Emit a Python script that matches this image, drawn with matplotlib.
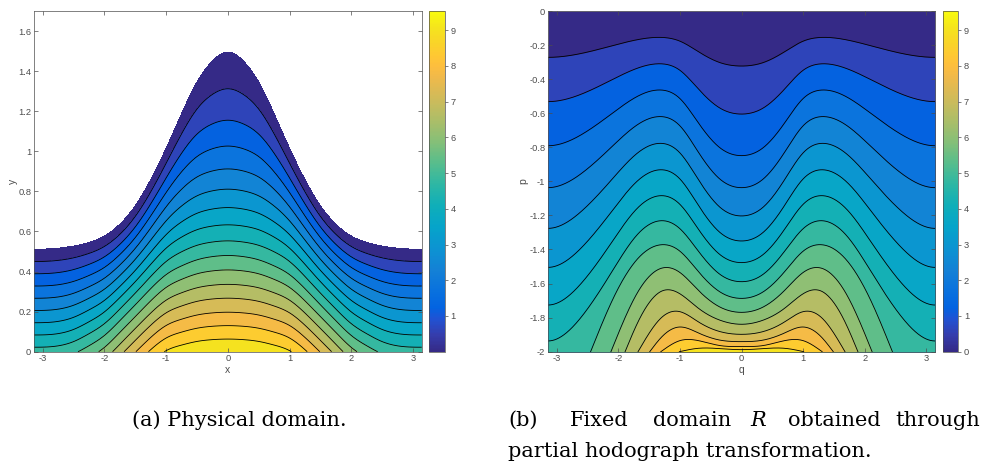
import numpy as np
import matplotlib
matplotlib.use("Agg")
import matplotlib.pyplot as plt
from matplotlib.colors import LinearSegmentedColormap, Normalize
from matplotlib.cm import ScalarMappable

plt.rcParams['font.family'] = ['Liberation Sans', 'DejaVu Sans']
plt.rcParams['axes.unicode_minus'] = False

# contour levels (surface value first) and field maximum
levels = [0.0, 0.6, 1.2, 1.8, 2.4, 3.0, 3.6, 4.2, 4.8, 5.4, 6.0, 6.6, 7.2, 7.8, 8.4, 9.0]
fmax = 9.54
N = None

# (a) physical domain, stations x >= 0 (mirrored in x)
xa = [0.0, 0.25, 0.5, 0.75, 1.0, 1.25, 1.5, 1.75, 2.0, 2.25, 2.5, np.pi]
surf_a = [1.495, 1.450, 1.345, 1.187, 1.015, 0.858, 0.728, 0.636, 0.577, 0.545, 0.527, 0.511]
bed_a = [9.54, 9.52, 9.45, 9.30, 9.05, 8.50, 7.77, 6.98, 6.22, 5.70, 5.30, 5.02]
# contour heights under the crest (x = 0)
crest_a = [1.312, 1.155, 1.026, 0.912, 0.811, 0.719, 0.633, 0.553,
           0.480, 0.408, 0.336, 0.267, 0.197, 0.130, 0.063]

# (b) fixed domain: contour depths p at stations q >= 0
qb = [0.0, 0.35, 0.7, 1.0, 1.3, 1.7, 2.1, 2.6, np.pi]
lines_b = [
    [-0.323, -0.303, -0.239, -0.177, -0.155, -0.169, -0.204, -0.249, -0.272],
    [-0.605, -0.570, -0.458, -0.348, -0.310, -0.337, -0.403, -0.488, -0.532],
    [-0.849, -0.803, -0.657, -0.514, -0.464, -0.503, -0.601, -0.726, -0.791],
    [-1.037, -0.987, -0.829, -0.674, -0.620, -0.670, -0.795, -0.954, -1.037],
    [-1.203, -1.152, -0.990, -0.833, -0.777, -0.837, -0.987, -1.176, -1.276],
    [-1.350, -1.300, -1.141, -0.986, -0.932, -1.001, -1.173, -1.390, -1.505],
    [-1.477, -1.430, -1.281, -1.135, -1.084, -1.161, -1.354, -1.598, -1.726],
    [-1.589, -1.546, -1.410, -1.278, -1.231, -1.316, -1.528, -1.796, -1.937],
    [-1.687, -1.649, -1.530, -1.410, -1.372, -1.460, -1.700, N, N],
    [-1.769, -1.738, -1.640, -1.535, -1.510, -1.660, N, N, N],
    [-1.839, -1.815, -1.745, -1.660, -1.645, -1.840, N, N, N],
    [-1.898, -1.882, -1.825, -1.765, -1.800, N, N, N, N],
    [-1.941, -1.932, -1.890, -1.855, -1.915, N, N, N, N],
    [-1.970, -1.964, -1.935, -1.935, N, N, N, N, N],
    [-1.988, -1.982, -1.980, N, N, N, N, N, N],
]
hits_b = [N] * 8 + [2.45, 2.12, 1.89, 1.68, 1.49, 1.31, 1.01]

# MATLAB parula, sampled
parula = [
    (0.2081, 0.1663, 0.5292), (0.2081, 0.2386, 0.6771), (0.1253, 0.3242, 0.8303),
    (0.0117, 0.3875, 0.8820), (0.0329, 0.4430, 0.8720), (0.0779, 0.5040, 0.8384),
    (0.0488, 0.5772, 0.8228), (0.0231, 0.6418, 0.7913), (0.0590, 0.6838, 0.7254),
    (0.1801, 0.7177, 0.6424), (0.3482, 0.7424, 0.5473), (0.5300, 0.7491, 0.4661),
    (0.6834, 0.7435, 0.4044), (0.8185, 0.7327, 0.3498), (0.9450, 0.7261, 0.2886),
    (0.9938, 0.7455, 0.2403), (0.9955, 0.7861, 0.1967), (0.9789, 0.8271, 0.1633),
    (0.9589, 0.8949, 0.1132), (0.9763, 0.9831, 0.0538),
]
pidx = [1, 4, 7, 9, 12, 16, 20, 24, 28, 32, 36, 40, 44, 48, 52, 54, 56, 58, 61, 64]
cmap = LinearSegmentedColormap.from_list(
    'parula', [((i - 1) / 63, c) for i, c in zip(pidx, parula)])
norm = Normalize(0, fmax)
band_colors = [cmap(norm(v)) for v in levels]


def spline(xk, yk, x, clamped):
    xk = np.asarray(xk, float)
    yk = np.asarray(yk, float)
    n = len(xk)
    h = np.diff(xk)
    A = np.zeros((n, n))
    r = np.zeros(n)
    for i in range(1, n - 1):
        A[i, i - 1], A[i, i], A[i, i + 1] = h[i - 1], 2 * (h[i - 1] + h[i]), h[i]
        r[i] = 6 * ((yk[i + 1] - yk[i]) / h[i] - (yk[i] - yk[i - 1]) / h[i - 1])
    if clamped:
        A[0, 0], A[0, 1] = 2 * h[0], h[0]
        r[0] = 6 * (yk[1] - yk[0]) / h[0]
        A[-1, -1], A[-1, -2] = 2 * h[-1], h[-1]
        r[-1] = -6 * (yk[-1] - yk[-2]) / h[-1]
    else:
        A[0, 0] = A[-1, -1] = 1.0
    M = np.linalg.solve(A, r)
    i = np.clip(np.searchsorted(xk, x) - 1, 0, n - 2)
    x0, x1, hi = xk[i], xk[i + 1], h[i]
    return ((M[i] * (x1 - x)**3 + M[i + 1] * (x - x0)**3) / (6 * hi)
            + (yk[i] / hi - M[i] * hi / 6) * (x1 - x)
            + (yk[i + 1] / hi - M[i + 1] * hi / 6) * (x - x0))


def pchip(xk, yk, x):
    xk = np.asarray(xk, float)
    yk = np.asarray(yk, float)
    h = np.diff(xk)
    d = np.diff(yk) / h
    m = np.zeros_like(yk)
    for i in range(1, len(xk) - 1):
        if d[i - 1] * d[i] > 0:
            w1, w2 = 2 * h[i] + h[i - 1], h[i] + 2 * h[i - 1]
            m[i] = (w1 + w2) / (w1 / d[i - 1] + w2 / d[i])
    m[0], m[-1] = d[0], d[-1]
    i = np.clip(np.searchsorted(xk, x) - 1, 0, len(h) - 1)
    t = (x - xk[i]) / h[i]
    return ((2 * t**3 - 3 * t**2 + 1) * yk[i] + (t**3 - 2 * t**2 + t) * h[i] * m[i]
            + (-2 * t**3 + 3 * t**2) * yk[i + 1] + (t**3 - t**2) * h[i] * m[i + 1])


def mirrored(xs, ys, x, hit=None, bottom=0.0):
    px = [u for u, v in zip(xs, ys) if v is not None]
    py = [v for v in ys if v is not None]
    if hit is not None:
        px.append(hit)
        py.append(bottom)
    fx = [-u for u in px[:0:-1]] + px
    fy = py[:0:-1] + py
    yy = spline(fx, fy, x, hit is None)
    if hit is not None:
        yy = np.where(np.abs(x) < hit, np.maximum(yy, bottom), bottom)
    return yy


def style(ax):
    ax.set_xlim(-np.pi, np.pi)
    ax.set_xticks(range(-3, 4))
    ax.tick_params(direction='in', length=3, width=0.5, top=True, right=True,
                   labelsize=6.7, colors='0.3', pad=2)
    for s in ax.spines.values():
        s.set_linewidth(0.5)
        s.set_color('0.3')


fig = plt.figure(figsize=(9.82, 4.70), dpi=100)
W, H = 982, 470


def box(x0, x1, y0, y1):
    return [x0 / W, 1 - y1 / H, (x1 - x0) / W, (y1 - y0) / H]


# (a): hydrostatic part minus a depth-shaped deficit, on a surface-following grid
ax1 = fig.add_axes(box(34, 421.7, 11, 351.7))
x = np.linspace(-np.pi, np.pi, 900)
zeta = np.linspace(0, 1, 500)
s = mirrored(xa, surf_a, x)
b = mirrored(xa, bed_a, x)
g = bed_a[-1] / surf_a[-1]
d0 = g * surf_a[0] - bed_a[0]
zk = [1 - c / surf_a[0] for c in crest_a]
dk = [(g * surf_a[0] * z - v) / d0 for z, v in zip(zk, levels[1:])]
shape = pchip([0.0] + zk + [1.0], [0.0] + dk + [1.0], zeta)
X = np.repeat(x[None, :], len(zeta), axis=0)
Y = s[None, :] * (1 - zeta[:, None])
P = g * s[None, :] * zeta[:, None] - (g * s - b)[None, :] * shape[:, None]
ax1.contourf(X, Y, P, levels=levels + [fmax + 0.05], colors=band_colors)
ax1.contour(X, Y, P, levels=levels[1:], colors='k', linewidths=0.6)
style(ax1)
ax1.set_ylim(0, 1.7)
yt = np.arange(0, 1.61, 0.2)
ax1.set_yticks(yt)
ax1.set_yticklabels(['%g' % round(v, 1) for v in yt])
ax1.set_xlabel('x', fontsize=7.5, color='0.3', labelpad=1)
ax1.set_ylabel('y', fontsize=7.5, color='0.3', labelpad=0.5)

# (b): bands between contour lines in the fixed domain
ax2 = fig.add_axes(box(548, 935, 11, 351.7))
q = np.linspace(-np.pi, np.pi, 1500)
curves = [np.zeros_like(q)] + [mirrored(qb, r, q, h, -2.0) for r, h in zip(lines_b, hits_b)]
for col, c in zip(band_colors, curves):
    ax2.fill_between(q, -2.0, c, color=col, lw=0)
for r, h in zip(lines_b, hits_b):
    lim = np.pi if h is None else h
    ql = np.linspace(-lim, lim, 900)
    ax2.plot(ql, mirrored(qb, r, ql, h, -2.0), color='k', lw=0.6)
style(ax2)
ax2.set_ylim(-2, 0)
pt = np.arange(-2, 0.01, 0.2)
ax2.set_yticks(pt)
ax2.set_yticklabels(['0' if abs(v) < 1e-9 else '%g' % round(v, 1) for v in pt])
ax2.set_xlabel('q', fontsize=7.5, color='0.3', labelpad=1)
ax2.set_ylabel('p', fontsize=7.5, color='0.3', labelpad=0.5)

for (x0, x1), ticks in [((429, 445), range(1, 10)), ((942.7, 958.3), range(0, 10))]:
    cax = fig.add_axes(box(x0, x1, 11, 351.7))
    cb = fig.colorbar(ScalarMappable(norm=norm, cmap=cmap), cax=cax, ticks=list(ticks))
    cb.outline.set_linewidth(0.5)
    cb.outline.set_edgecolor('0.3')
    cax.tick_params(labelsize=6.7, length=2, width=0.5, colors='0.3', pad=2)

cap = dict(family=['DejaVu Serif'], fontsize=15, va='baseline')
fig.text(131.7 / W, 1 - 425.7 / H, '(a) Physical domain.', **cap)
for word, xw in [('(b)', 508.3), ('Fixed', 570), ('domain', 653), ('R', 750),
                 ('obtained', 788)]:
    fig.text(xw / W, 1 - 425.7 / H, word, style='italic' if word == 'R' else 'normal', **cap)
fig.text(980 / W, 1 - 425.7 / H, 'through', ha='right', **cap)
fig.text(508.3 / W, 1 - 457 / H, 'partial hodograph transformation.', **cap)

fig.savefig('out.png', dpi=100)
